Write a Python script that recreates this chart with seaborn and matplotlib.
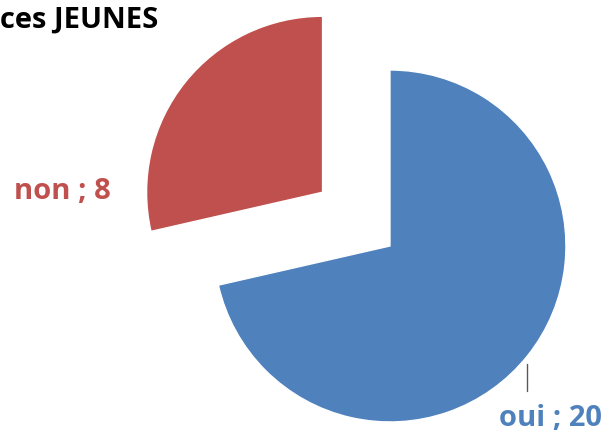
import matplotlib
matplotlib.use("Agg")
import matplotlib.pyplot as plt
import seaborn as sns

categories = ["oui", "non"]
values = [20, 8]
colors = ["#4F81BD", "#C0504D"]
explode = [0, 0.49]
title = "ces JEUNES"

sns.set_style("white")
plt.rcParams["font.family"] = ["Open Sans", "DejaVu Sans"]

fig = plt.figure(figsize=(6.11, 4.35), dpi=100)
ax = fig.add_axes([0, 0, 1, 1])
ax.pie(values, colors=colors, explode=explode, startangle=90,
       counterclock=False, radius=1)
ax.set_aspect("equal")
ax.set_xlim(-2.216, 1.256)
ax.set_ylim(-1.068, 1.403)
ax.axis("off")

# étiquettes de données
ax.text(-1.864, 0.3125, f"{categories[1]} ; {values[1]}", color=colors[1],
        fontsize=21, fontweight="bold", ha="center", va="center")
ax.text(0.915, -0.972, f"{categories[0]} ; {values[0]}", color=colors[0],
        fontsize=21, fontweight="bold", ha="center", va="center")
ax.plot([0.778, 0.778], [-0.67, -0.824], color="#595959", lw=1)

fig.text(-0.003, 435 - 28, title, transform=None, fontsize=21,
         fontweight="bold", color="black", ha="left", va="baseline")

fig.savefig("out.png", dpi=100)
